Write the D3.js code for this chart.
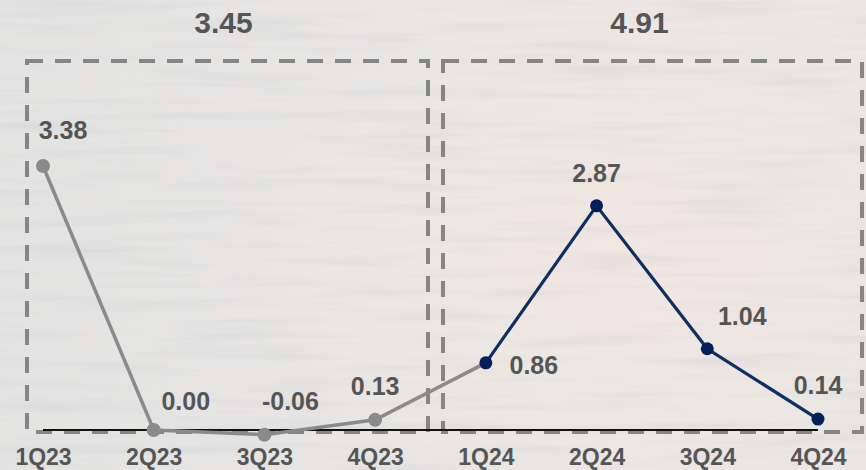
<!DOCTYPE html>
<html><head><meta charset="utf-8">
<script src="https://cdn.jsdelivr.net/npm/d3@7"></script>
<style>html,body{margin:0;padding:0;background:#e7e6e4;}svg{display:block;}</style>
</head><body>
<script>
const categories = ["1Q23","2Q23","3Q23","4Q23","1Q24","2Q24","3Q24","4Q24"];
const values = [3.38, 0.00, -0.06, 0.13, 0.86, 2.87, 1.04, 0.14];
const valueLabels = ["3.38","0.00","-0.06","0.13","0.86","2.87","1.04","0.14"];
const series2023 = ["1Q23","2Q23","3Q23","4Q23","1Q24"];
const series2024 = ["1Q24","2Q24","3Q24","4Q24"];
const yearTotals = ["3.45","4.91"];

const W = 866, H = 470;
const svg = d3.select("body").append("svg").attr("width", W).attr("height", H);
const defs = svg.append("defs");

// background
const bg = defs.append("linearGradient").attr("id","bg").attr("x1",0).attr("x2",1).attr("y1",0).attr("y2",0);
bg.append("stop").attr("offset","0%").attr("stop-color","#e3e3e2");
bg.append("stop").attr("offset","45%").attr("stop-color","#e8e6e4");
bg.append("stop").attr("offset","75%").attr("stop-color","#ece6e3");
bg.append("stop").attr("offset","100%").attr("stop-color","#eae6e4");
const rg = defs.append("radialGradient").attr("id","glow").attr("cx","0.7").attr("cy","0.55").attr("r","0.45");
rg.append("stop").attr("offset","0%").attr("stop-color","#f3e6e1").attr("stop-opacity",0.8);
rg.append("stop").attr("offset","100%").attr("stop-color","#f3e6e1").attr("stop-opacity",0);
const f = defs.append("filter").attr("id","waves").attr("x",0).attr("y",0).attr("width","100%").attr("height","100%");
f.append("feTurbulence").attr("type","fractalNoise").attr("baseFrequency","0.006 0.09").attr("numOctaves",3).attr("seed",4).attr("result","n");
f.append("feColorMatrix").attr("type","matrix")
  .attr("values","0 0 0 0 0.55  0 0 0 0 0.56  0 0 0 0 0.6  0 0 0 -1.4 0.75");

svg.append("rect").attr("width",W).attr("height",H).attr("fill","url(#bg)");
svg.append("rect").attr("width",W).attr("height",H).attr("fill","url(#glow)");
svg.append("rect").attr("width",W).attr("height",H).attr("filter","url(#waves)").attr("opacity",0.45);

const x = d3.scalePoint().domain(categories).range([43, 818]);
const y = d3.scaleLinear().domain([0, 3.38]).range([430, 166]);

const textColor = "#555555";
const font = "'Liberation Sans', Arial, sans-serif";

// dashed boxes
const boxes = [{x0:27, x1:428}, {x0:443, x1:862}];
svg.selectAll("rect.box").data(boxes).enter().append("rect")
  .attr("x", d => d.x0).attr("y", 61).attr("width", d => d.x1 - d.x0).attr("height", 371)
  .attr("fill","none").attr("stroke","#858585").attr("stroke-width",4).attr("stroke-dasharray","16,12");

// totals
svg.selectAll("text.total").data(yearTotals).enter().append("text")
  .attr("x", (d,i) => (boxes[i].x0 + boxes[i].x1)/2 - (i===0?4:13)).attr("y", 33)
  .attr("text-anchor","middle").attr("font-family",font).attr("font-weight","bold")
  .attr("font-size","30px").attr("fill",textColor).text(d => d);

// baseline
svg.append("line").attr("x1", x("1Q23")).attr("x2", x("4Q24")).attr("y1", y(0)).attr("y2", y(0))
  .attr("stroke","#111").attr("stroke-width",1.8);

const data = categories.map((c,i) => ({c, v: values[i], label: valueLabels[i]}));
const line = d3.line().x(d => x(d.c)).y(d => y(d.v));

const grey = "#8a8a8a", navy = "#0d2f62", navyDot = "#03205a";
const d23 = data.filter(d => series2023.includes(d.c));
const d24 = data.filter(d => series2024.includes(d.c));
svg.append("path").datum(d23).attr("d", line).attr("fill","none").attr("stroke",grey).attr("stroke-width",3.5);
svg.append("path").datum(d24).attr("d", line).attr("fill","none").attr("stroke",navy).attr("stroke-width",3.2);

svg.selectAll("circle.g").data(d23.filter(d => d.c !== "1Q24")).enter().append("circle")
  .attr("cx", d => x(d.c)).attr("cy", d => y(d.v)).attr("r", 7).attr("fill", grey);
svg.selectAll("circle.n").data(d24).enter().append("circle")
  .attr("cx", d => x(d.c)).attr("cy", d => y(d.v)).attr("r", 6.5).attr("fill", navyDot);

// value labels: offsets relative to point
const offsets = {
  "1Q23": [20, -27], "2Q23": [32, -20], "3Q23": [26, -25], "4Q23": [0, -25],
  "1Q24": [48, 11], "2Q24": [0, -24], "3Q24": [35, -24], "4Q24": [0, -25]
};
svg.selectAll("text.val").data(data).enter().append("text")
  .attr("x", d => x(d.c) + offsets[d.c][0]).attr("y", d => y(d.v) + offsets[d.c][1])
  .attr("text-anchor","middle").attr("font-family",font).attr("font-weight","bold")
  .attr("font-size","25px").attr("fill",textColor).text(d => d.label);

// category axis
const axis = d3.axisBottom(x).tickSize(0).tickPadding(0);
const gAxis = svg.append("g").attr("transform","translate(0,450)").call(axis);
gAxis.select(".domain").remove();
gAxis.selectAll("text").attr("font-family",font).attr("font-weight","bold")
  .attr("font-size","23px").attr("fill",textColor).attr("dy","0").attr("y",15);
</script>
</body></html>
